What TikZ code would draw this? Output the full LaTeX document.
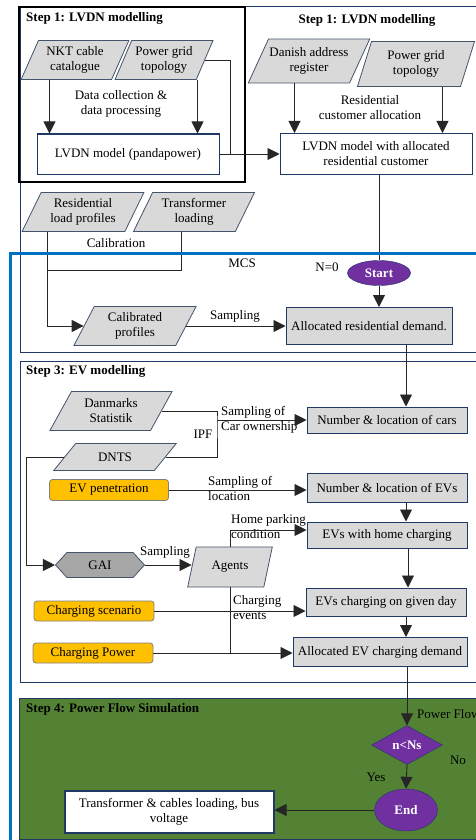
\documentclass[tikz,border=0pt]{standalone}
\usepackage{fontspec}
\setmainfont{Liberation Serif}
\usetikzlibrary{shapes.geometric,shapes.symbols,arrows.meta}
\definecolor{navy}{HTML}{1F3864}
\definecolor{boxgray}{HTML}{D9D9D9}
\definecolor{gaigray}{HTML}{A6A6A6}
\definecolor{paraedge}{HTML}{44546A}
\definecolor{evorange}{HTML}{FFC000}
\definecolor{purp}{HTML}{7030A0}
\definecolor{mcsblue}{HTML}{0070C0}
\definecolor{stepgreen}{HTML}{548235}
\newcommand{\diagfont}{\fontsize{13}{15}\selectfont}

\begin{document}
\begin{tikzpicture}[x=1pt,y=-1pt]
\tikzstyle{every node}=[font=\diagfont, inner sep=1pt]
\tikzstyle{frame}=[draw=navy, line width=0.8pt]
\tikzstyle{title}=[anchor=west, font=\diagfont\bfseries]
\tikzstyle{proc}=[rectangle, draw=navy, line width=1pt, fill=boxgray, align=center, minimum width=160pt]
\tikzstyle{wproc}=[proc, fill=white]
\tikzstyle{para}=[trapezium, trapezium left angle=62, trapezium right angle=118, trapezium stretches=true, draw=paraedge, line width=0.8pt, fill=boxgray, align=center]
\tikzstyle{evin}=[rectangle, rounded corners=3pt, draw=gray, line width=0.8pt, fill=evorange, minimum width=120pt, minimum height=20pt]
\tikzstyle{term}=[ellipse, draw=navy, fill=purp, text=white, font=\diagfont\bfseries, inner sep=0pt]
\tikzstyle{conn}=[draw=black!85, line width=0.9pt]
\tikzstyle{arr}=[conn, -{Triangle[length=12pt,width=12pt]}]
\useasboundingbox (0,0) rectangle (476,840);

\draw[frame, fill=stepgreen] (19,698) rectangle (490,839);
\draw[frame] (20,6) rectangle (490,352);
\draw[black, line width=1.5pt] (19,7) rectangle (245,182);
\draw[frame] (20,361) rectangle (490,682);

\node[title] (t1) at (25,18) {Step 1: LVDN modelling};
\node[title, anchor=center] (t1b) at (367,20) {Step 1: LVDN modelling};
\node[title] (t3) at (25,371) {Step 3: EV modelling};
\node[title] (t4) at (25,709) {Step 4: Power Flow Simulation};

\node[para, minimum width=108pt, minimum height=39pt, trapezium left angle=64, trapezium right angle=116] (nkt) at (75,60) {NKT cable\\catalogue};
\node[para, minimum width=98pt, minimum height=39pt] (pgt) at (164,60) {Power grid\\topology};
\node[wproc, minimum width=182pt, minimum height=40pt] (lvdn) at (128,154) {LVDN model (pandapower)};
\node[align=center] (dcp) at (121,104) {Data collection \&\\data processing};

\node[para, minimum width=117pt, minimum height=44pt, trapezium left angle=55, trapezium right angle=125] (dar) at (309,61) {Danish address\\register};
\node[para, minimum width=118pt, minimum height=45pt, trapezium left angle=72, trapezium right angle=108] (pgt2) at (416,64) {Power grid\\topology};
\node[align=center] (rca) at (370,108) {Residential\\customer allocation};
\node[wproc, minimum width=192pt, minimum height=41pt] (lvdna) at (376,154) {LVDN model with allocated\\residential customer};

\node[para, minimum width=122pt, minimum height=39pt] (rlp) at (83,212) {Residential\\load profiles};
\node[para, minimum width=122pt, minimum height=39pt] (trl) at (194,212) {Transformer\\loading};
\node (calib) at (116,243) {Calibration};
\node[para, minimum width=123pt, minimum height=39pt, trapezium left angle=64, trapezium right angle=116] (cal) at (135,326) {Calibrated\\profiles};
\node (mcs) at (242,263) {MCS};
\node (n0) at (327,267) {N=0};
\node[term, minimum width=63pt, minimum height=25pt] (start) at (379,273) {Start};
\node[proc, minimum width=166pt, minimum height=37pt] (ard) at (369,326) {Allocated residential demand.};
\node (smp1) at (235,316) {Sampling};

\node[para, minimum width=123pt, minimum height=39pt, trapezium left angle=60, trapezium right angle=120] (dst) at (111,411) {Danmarks\\Statistik};
\node[para, minimum width=123pt, minimum height=27pt, trapezium left angle=47, trapezium right angle=133] (dnts) at (115,457) {DNTS};
\coordinate (ipf) at (217,420);
\node (ipft) at (203,434) {IPF};
\node[proc, minimum height=26pt] (nlc) at (387,420) {Number \& location of cars};
\node[align=left, anchor=west] (sco) at (220,420) {Sampling of\\Car ownership};

\node[evin, minimum width=119pt, minimum height=21pt] (evp) at (109,490) {EV penetration};
\node[proc, minimum height=29pt] (nle) at (387,488) {Number \& location of EVs};
\node[align=left, anchor=west] (slo) at (207,488) {Sampling of\\location};

\node[proc, minimum height=26pt] (ehc) at (387,535) {EVs with home charging};
\node[align=left, anchor=west] (hpc) at (230,527) {Home parking\\condition};
\node[signal, signal to=west and east, signal pointer angle=95, draw=paraedge, line width=0.8pt, fill=gaigray, minimum width=89pt, minimum height=25pt] (gai) at (100,565) {GAI};
\node (smp2) at (165,552) {Sampling};
\node[para, minimum width=85pt, minimum height=40pt, trapezium left angle=70, trapezium right angle=110] (agents) at (230,567) {Agents};

\node[evin] (csc) at (94,611) {Charging scenario};
\node[proc, minimum height=28pt] (ecd) at (386,602) {EVs charging on given day};
\node[align=left, anchor=west] (cev) at (232,608) {Charging\\events};
\node[evin] (cpw) at (93,653) {Charging Power};
\node[proc, minimum width=174pt, minimum height=29pt] (aed) at (380,652) {Allocated EV charging demand};

\node[diamond, draw=navy, fill=purp, text=white, font=\diagfont\bfseries, inner sep=0pt, minimum width=71pt, minimum height=39pt] (dia) at (407,745) {n<Ns};
\node[anchor=west] (pfl) at (416,714) {Power Flow};
\node (no) at (458,760) {No};
\node (yes) at (376,777) {Yes};
\node[term, minimum width=63pt, minimum height=42pt] (end) at (406,810) {End};
\node[wproc, line width=2pt, minimum width=209pt, minimum height=42pt] (tcl) at (169,812) {Transformer \& cables loading, bus\\voltage};

\draw[arr] ([xshift=13pt]lvdn.north west |- nkt.south) -- ([xshift=13pt]lvdn.north west);
\draw[arr] ([xshift=-22pt]lvdn.north east |- pgt.south) -- ([xshift=-22pt]lvdn.north east);
\draw[conn] (pgt.east) -| ([xshift=11pt]lvdn.east);
\draw[arr] (lvdn.east) -- (lvdna.west);
\draw[arr] ([xshift=15pt]lvdna.north west |- dar.south) -- ([xshift=15pt]lvdna.north west);
\draw[arr] ([xshift=-30pt]lvdna.north east |- pgt2.south) -- ([xshift=-30pt]lvdna.north east);
\draw[conn] (lvdna.south -| start.north) -- (start.north);
\draw[arr] (start.south) -- (start.south |- ard.north);
\coordinate (calj) at (47,270);
\draw[arr] (rlp.south -| calj) |- (cal.west);
\draw[conn] ([xshift=-13pt]trl.center |- trl.south) |- (calj);
\draw[arr] (cal.east) -- (cal.east -| ard.west);
\draw[arr] ([xshift=37pt]ard.south) -- ([xshift=37pt]ard.south |- nlc.north);

\draw[conn] (dst.east) -| (ipf) |- (dnts.east);
\draw[arr] (ipf) -- (nlc.west);
\draw[arr] (dnts.west) -| ([xshift=-29pt]gai.west) -- (gai.west);
\draw[arr] (evp.east) -- (evp.east -| nle.west);
\draw[arr] ([xshift=19pt]nle.south) -- ([xshift=19pt]nle.south |- ehc.north);
\draw[arr] (gai.east) -- (gai.east -| agents.west);
\draw[arr] (agents.north -| agents.center) |- ([yshift=5pt]ehc.west);
\draw[conn] (agents.south -| agents.center) -- (agents.center |- cpw.east);
\draw[arr] (csc.east) -- (csc.east -| ecd.west);
\draw[arr] (cpw.east) -- (cpw.east -| aed.west);
\draw[arr] ([xshift=21pt]ehc.south) -- ([xshift=21pt]ehc.south |- ecd.north);
\draw[arr] ([xshift=20pt]ecd.south) -- ([xshift=20pt]ecd.south |- aed.north);
\draw[arr] (aed.south -| dia.north) -- (dia.north);
\draw[arr] (dia.south) -- (end.north);
\draw[arr] (end.west) -- (end.west -| tcl.east);

\draw[mcsblue, line width=3pt] (10,850) -- (10,253) -- (490,253);
\end{tikzpicture}
\end{document}
